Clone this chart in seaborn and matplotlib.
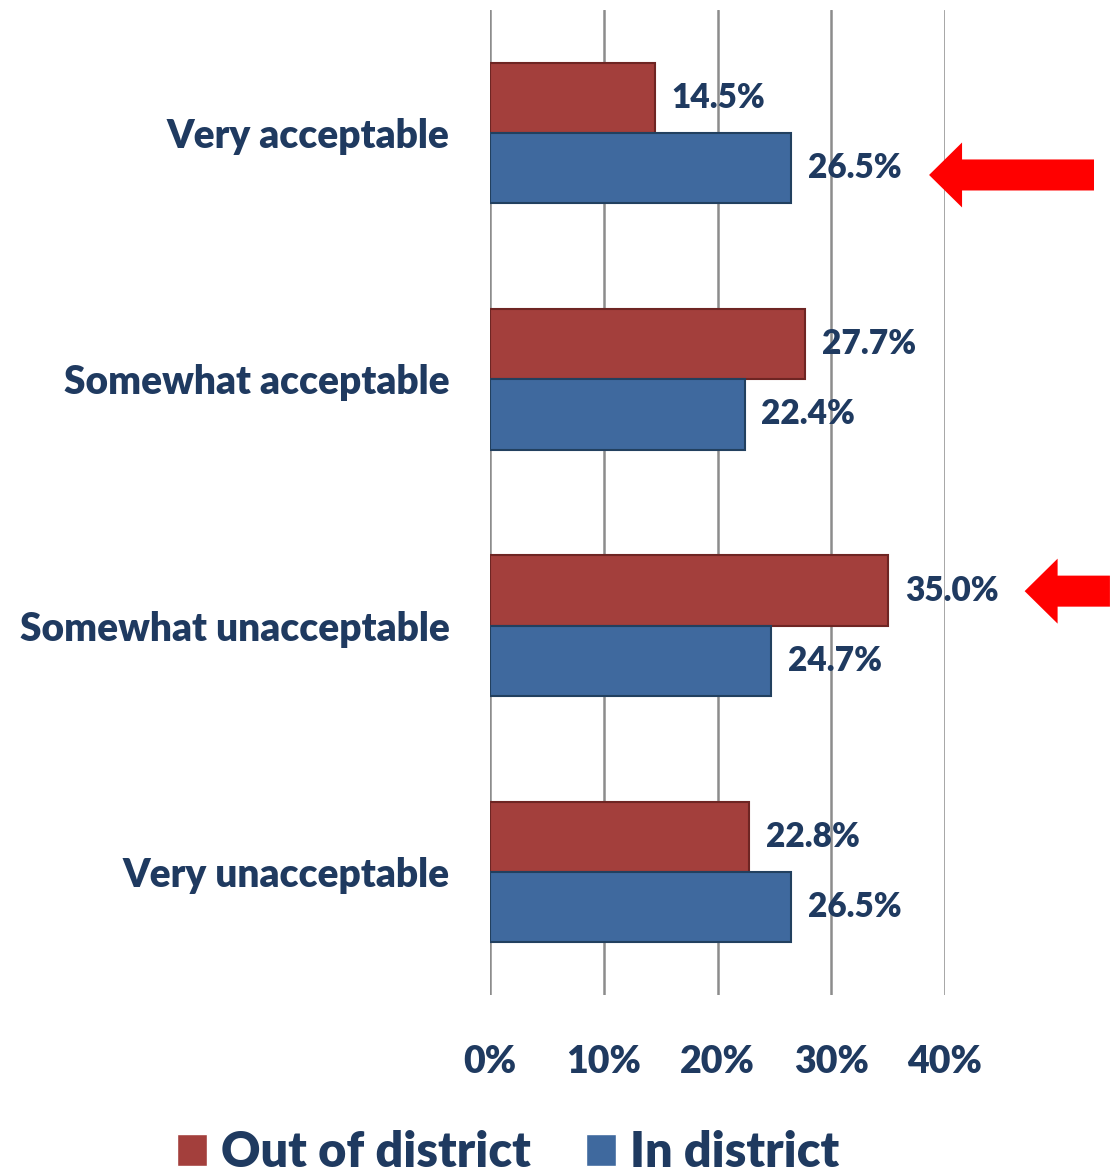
import pandas as pd
import matplotlib.pyplot as plt
import seaborn as sns
from matplotlib.patches import FancyArrow

categories = ['Very acceptable', 'Somewhat acceptable', 'Somewhat unacceptable', 'Very unacceptable']
series = ['Out of district', 'In district']
out_district = [14.5, 27.7, 35.0, 22.8]
in_district = [26.5, 22.4, 24.7, 26.5]
x_ticks = [0, 10, 20, 30, 40]
x_tick_labels = ['0%', '10%', '20%', '30%', '40%']

# arrows: (category index, y offset from category centre, tip x, tail x)
arrows = [(0, 0.17, 38.6, 53.1), (2, -0.14, 47.0, 54.5)]

df = pd.DataFrame({
    'category': categories * 2,
    'group': [series[0]] * 4 + [series[1]] * 4,
    'value': out_district + in_district,
})

sns.set_style('white')
plt.rcParams['font.family'] = ['Lato', 'DejaVu Sans']
navy = '#1F3A60'
colors = ['#A33F3C', '#3F699E']
weight = 'heavy'

fig = plt.figure(figsize=(11.19, 11.75), dpi=100)
ax = fig.add_axes([0.4379, 0.1532, 0.8445 - 0.4379, 0.9915 - 0.1532])

sns.barplot(data=df, y='category', x='value', hue='group', order=categories,
            hue_order=series, palette=colors, width=0.57, orient='h',
            saturation=1, ax=ax, legend=True)

for cont, edge in zip(ax.containers, ['#6E2523', '#22405F']):
    for bar in cont:
        bar.set_edgecolor(edge)
        bar.set_linewidth(1.5)
    ax.bar_label(cont, fmt='%.1f%%', padding=12, color=navy,
                 fontsize=24, fontweight=weight)

ax.set_xlim(0, 40)
ax.set_ylim(len(categories) - 0.5, -0.5)
ax.set_xticks(x_ticks)
ax.set_xticklabels(x_tick_labels)
ax.xaxis.grid(True, color='#8C8C8C', linewidth=1.8)
ax.set_axisbelow(True)
ax.tick_params(axis='x', length=0, pad=36, labelsize=27, labelcolor=navy)
ax.tick_params(axis='y', length=0, pad=29, labelsize=28, labelcolor=navy)
for lab in ax.get_xticklabels() + ax.get_yticklabels():
    lab.set_fontweight(weight)
for s in ax.spines.values():
    s.set_visible(False)
ax.set_xlabel('')
ax.set_ylabel('')

for cat, off, tip, tail in arrows:
    ax.add_patch(FancyArrow(tail, cat + off, tip - tail, 0, width=0.126,
                            head_width=0.264, head_length=2.9,
                            length_includes_head=True, color='#FF0000',
                            clip_on=False, linewidth=0))

handles, labels = ax.get_legend_handles_labels()
ax.legend_.remove()
fig.legend(handles, labels, loc='center', bbox_to_anchor=(0.454, 0.019), ncol=2,
           frameon=False, handlelength=0.62, handleheight=0.62, handletextpad=0.3,
           columnspacing=1.12, prop={'size': 35, 'weight': weight},
           labelcolor=navy)

fig.savefig('out.png', dpi=100)
